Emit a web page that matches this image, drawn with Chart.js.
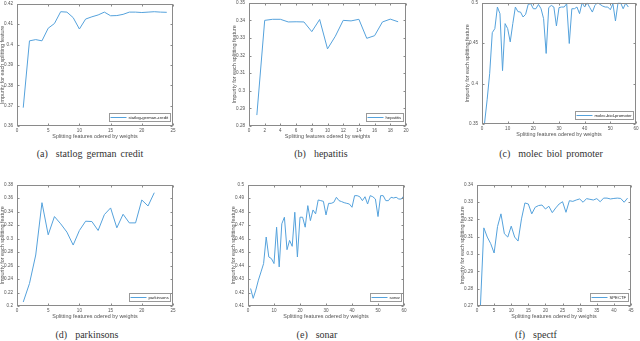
<!DOCTYPE html>
<html>
<head>
<meta charset="utf-8">
<script src="https://cdn.jsdelivr.net/npm/chart.js@4.4.1/dist/chart.umd.min.js"></script>
<style>
html, body { margin: 0; padding: 0; background: #fff; }
body { width: 640px; height: 341px; position: relative; overflow: hidden; }
canvas { position: absolute; }
.cap { position: absolute; width: 220px; margin-left: -110px; text-align: center;
  font-family: "Liberation Serif", "Times New Roman", serif; font-size: 10px; line-height: 12px;
  color: #333; word-spacing: 1.5px; white-space: nowrap; }
</style>
</head>
<body>
<canvas id="chart-a"></canvas>
<canvas id="chart-b"></canvas>
<canvas id="chart-c"></canvas>
<canvas id="chart-d"></canvas>
<canvas id="chart-e"></canvas>
<canvas id="chart-f"></canvas>
<div class="cap" style="left:90px;top:148px">(a)&nbsp; statlog german credit</div>
<div class="cap" style="left:321px;top:148px">(b)&nbsp; hepatitis</div>
<div class="cap" style="left:551px;top:148px">(c)&nbsp; molec biol promoter</div>
<div class="cap" style="left:87px;top:329px">(d)&nbsp; parkinsons</div>
<div class="cap" style="left:317px;top:329px">(e)&nbsp; sonar</div>
<div class="cap" style="left:536px;top:329px">(f)&nbsp; spectf</div>
<script>
// impurity values, one per splitting feature (x = 1..n)
var germanCredit = [0.369, 0.4018, 0.4024, 0.4018, 0.408, 0.4103, 0.4161, 0.4159, 0.4132, 0.4076,
  0.4125, 0.4136, 0.4145, 0.4159, 0.4141, 0.4142, 0.4148, 0.4159, 0.4159, 0.4157,
  0.4159, 0.4161, 0.4159, 0.4158];
var hepatitis = [0.2862, 0.34, 0.3406, 0.3406, 0.3391, 0.3392, 0.3391, 0.3336, 0.3405, 0.3238,
  0.331, 0.34, 0.3397, 0.3406, 0.3298, 0.3313, 0.3391, 0.3407, 0.3392];
var promoter = [0.3512, 0.38, 0.4127, 0.463, 0.468, 0.4947, 0.4865, 0.416, 0.4742, 0.468,
  0.4516, 0.4742, 0.4947, 0.489, 0.4885, 0.4824, 0.4857, 0.498, 0.4988, 0.4926,
  0.4926, 0.498, 0.4926, 0.4803, 0.4373, 0.494, 0.4967, 0.4947, 0.4713, 0.494,
  0.4947, 0.4947, 0.4988, 0.4496, 0.4926, 0.4926, 0.4947, 0.4865, 0.5, 0.4947,
  0.5, 0.494, 0.4885, 0.4967, 0.5, 0.498, 0.4959, 0.4947, 0.4947, 0.4914,
  0.4988, 0.4775, 0.5, 0.5, 0.4926, 0.4996, 0.4947];
var parkinsons = [0.2059, 0.2334, 0.2757, 0.3534, 0.3057, 0.3328, 0.322, 0.3097, 0.2905, 0.3121,
  0.3259, 0.3254, 0.3121, 0.3357, 0.3456, 0.3161, 0.3362, 0.3234, 0.3234, 0.3574,
  0.3485, 0.3682];
var sonar = [0.423, 0.4157, 0.4218, 0.4292, 0.4353, 0.4415, 0.4612, 0.4464, 0.4452, 0.4415,
  0.4685, 0.439, 0.471, 0.4759, 0.4518, 0.4587, 0.4543, 0.4796, 0.4464, 0.4759,
  0.4759, 0.4685, 0.4845, 0.4734, 0.4813, 0.4784, 0.4887, 0.4882, 0.4877, 0.4776,
  0.4862, 0.4862, 0.487, 0.4907, 0.4882, 0.4875, 0.4867, 0.4862, 0.4857, 0.4833,
  0.4919, 0.4919, 0.4911, 0.4882, 0.4911, 0.4857, 0.4919, 0.4911, 0.4894, 0.4764,
  0.4919, 0.4919, 0.4882, 0.4882, 0.4907, 0.4902, 0.4907, 0.4894, 0.4894, 0.4919];
var spectf = [0.27, 0.3151, 0.3098, 0.306, 0.3006, 0.3159, 0.3232, 0.3117, 0.3098, 0.3161,
  0.3098, 0.3075, 0.3203, 0.3295, 0.3289, 0.3232, 0.327, 0.328, 0.3283, 0.326,
  0.3276, 0.3239, 0.3266, 0.3289, 0.3302, 0.3241, 0.3308, 0.3304, 0.3312, 0.3318,
  0.3299, 0.332, 0.3316, 0.3312, 0.332, 0.3302, 0.3323, 0.3323, 0.3318, 0.3321,
  0.3323, 0.3321, 0.3299, 0.3323];

// tick labels
var xTicksA = [0, 5, 10, 15, 20, 25];
var yTicksA = [0.36, 0.37, 0.38, 0.39, 0.4, 0.41, 0.42];
var xTicksB = [0, 2, 4, 6, 8, 10, 12, 14, 16, 18, 20];
var yTicksB = [0.28, 0.29, 0.3, 0.31, 0.32, 0.33, 0.34, 0.35];
var xTicksC = [0, 10, 20, 30, 40, 50, 60];
var yTicksC = [0.35, 0.4, 0.45, 0.5];
var xTicksD = [0, 5, 10, 15, 20, 25];
var yTicksD = [0.2, 0.22, 0.24, 0.26, 0.28, 0.3, 0.32, 0.34, 0.36, 0.38];
var xTicksE = [0, 10, 20, 30, 40, 50, 60];
var yTicksE = [0.41, 0.42, 0.43, 0.44, 0.45, 0.46, 0.47, 0.48, 0.49, 0.5];
var xTicksF = [0, 5, 10, 15, 20, 25, 30, 35, 40, 45];
var yTicksF = [0.27, 0.28, 0.29, 0.3, 0.31, 0.32, 0.33, 0.34];

var xTitle = 'Splitting features odered by weights';
var yTitle = 'Impurity for each splitting feature';
var lineColor = 'rgb(85, 162, 220)';
var frameColor = '#8a8a8a';
var textColor = '#555';
var tickFont = { family: '"Liberation Sans", Arial, sans-serif', size: 4.6 };
var titleFont = { family: '"Liberation Sans", Arial, sans-serif', size: 5.4 };

// MATLAB-like box with inward ticks, and the legend in the lower right
var framePlugin = {
  id: 'frame',
  afterDatasetsDraw: function(chart) {
    var ctx = chart.ctx, a = chart.chartArea;
    var L = Math.round(a.left) + 0.5, T = Math.round(a.top) + 0.5;
    var R = Math.round(a.right) - 0.5, B = Math.round(a.bottom) - 0.5;
    ctx.save();
    ctx.strokeStyle = frameColor;
    ctx.lineWidth = 1;
    ctx.strokeRect(L, T, R - L, B - T);
    ctx.beginPath();
    var sx = chart.scales.x, sy = chart.scales.y;
    sx.ticks.forEach(function(t) {
      var p = Math.round(sx.getPixelForValue(t.value)) + 0.5;
      ctx.moveTo(p, B); ctx.lineTo(p, B - 2);
      ctx.moveTo(p, T); ctx.lineTo(p, T + 2);
    });
    sy.ticks.forEach(function(t) {
      var p = Math.round(sy.getPixelForValue(t.value)) + 0.5;
      ctx.moveTo(L, p); ctx.lineTo(L + 2, p);
      ctx.moveTo(R, p); ctx.lineTo(R - 2, p);
    });
    ctx.stroke();

    var ds = chart.data.datasets[0];
    ctx.font = '4.2px "Liberation Sans", Arial, sans-serif';
    var tw = ctx.measureText(ds.label).width;
    var w = Math.round(1 + 16 + 2 + tw + 2), h = 8;
    var x1 = Math.round(R - 3 - w) + 0.5, y1 = Math.round(B - 5 - h) + 0.5;
    ctx.fillStyle = '#fff';
    ctx.fillRect(x1, y1, w, h);
    ctx.strokeStyle = '#999';
    ctx.strokeRect(x1, y1, w, h);
    ctx.strokeStyle = ds.borderColor;
    ctx.beginPath();
    ctx.moveTo(x1 + 1, y1 + h / 2);
    ctx.lineTo(x1 + 17, y1 + h / 2);
    ctx.stroke();
    ctx.fillStyle = '#222';
    ctx.textBaseline = 'middle';
    ctx.fillText(ds.label, x1 + 19, y1 + h / 2 + 0.3);
    ctx.restore();
  }
};

function tickList(arr) {
  return function(scale) {
    scale.ticks = arr.map(function(v) { return { value: v }; });
  };
}

function drawPanel(id, box, label, values, xTicks, yTicks) {
  var cv = document.getElementById(id);
  cv.width = box.r - box.l + 26;
  cv.height = box.b - box.t + 20;
  cv.style.left = (box.l - 18) + 'px';
  cv.style.top = (box.t - 6) + 'px';
  var pts = values.map(function(v, i) { return { x: i + 1, y: v }; });
  return new Chart(cv, {
    type: 'line',
    data: {
      datasets: [{
        label: label,
        data: pts,
        borderColor: lineColor,
        borderWidth: 1,
        pointRadius: 0,
        tension: 0,
        fill: false
      }]
    },
    options: {
      responsive: false,
      animation: false,
      devicePixelRatio: 1,
      layout: { padding: { top: 6, right: 8, left: 0, bottom: 0 } },
      plugins: { legend: { display: false }, tooltip: { enabled: false } },
      scales: {
        x: {
          type: 'linear',
          min: xTicks[0],
          max: xTicks[xTicks.length - 1],
          afterBuildTicks: tickList(xTicks),
          afterFit: function(s) { s.height = 14; },
          grid: { display: false, drawTicks: false },
          border: { display: false },
          ticks: { padding: 2, font: tickFont, color: textColor, maxRotation: 0, autoSkip: false,
            callback: function(v) { return String(v); } },
          title: { display: true, text: xTitle, font: titleFont, color: textColor, padding: 0 }
        },
        y: {
          type: 'linear',
          min: yTicks[0],
          max: yTicks[yTicks.length - 1],
          afterBuildTicks: tickList(yTicks),
          afterFit: function(s) { s.width = 18; },
          grid: { display: false, drawTicks: false },
          border: { display: false },
          ticks: { padding: 4, font: tickFont, color: textColor, autoSkip: false,
            callback: function(v) { return String(v); } },
          title: { display: true, text: yTitle, font: titleFont, color: textColor, padding: 0 }
        }
      }
    },
    plugins: [framePlugin]
  });
}

drawPanel('chart-a', { l: 17, r: 173, t: 3, b: 126 }, 'statlog-german-credit', germanCredit, xTicksA, yTicksA);
drawPanel('chart-b', { l: 249, r: 406, t: 2, b: 126 }, 'hepatitis', hepatitis, xTicksB, yTicksB);
drawPanel('chart-c', { l: 482, r: 636, t: 2, b: 124 }, 'molec-biol-promoter', promoter, xTicksC, yTicksC);
drawPanel('chart-d', { l: 17, r: 173, t: 184, b: 306 }, 'parkinsons', parkinsons, xTicksD, yTicksD);
drawPanel('chart-e', { l: 248, r: 404, t: 184, b: 306 }, 'sonar', sonar, xTicksE, yTicksE);
drawPanel('chart-f', { l: 477, r: 631, t: 184, b: 306 }, 'SPECTF', spectf, xTicksF, yTicksF);
</script>
</body>
</html>
